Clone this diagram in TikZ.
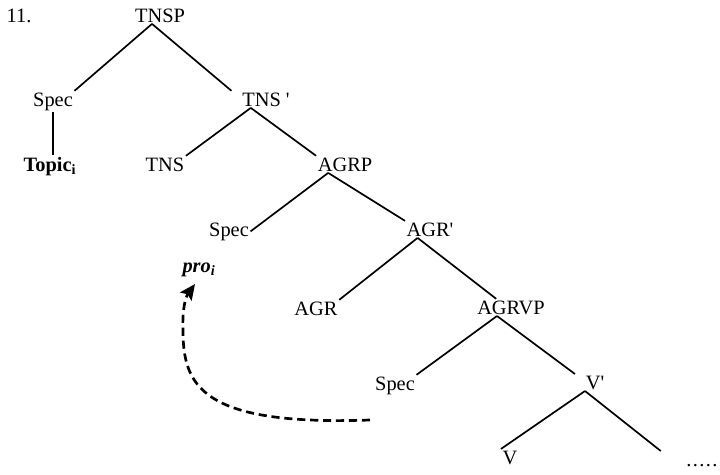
\documentclass[tikz,border=0pt]{standalone}
\usepackage{fontspec}
\setmainfont{Liberation Serif}
\usetikzlibrary{arrows.meta}

\tikzset{
	lbl/.style={anchor=base, inner sep=1pt, font=\fontsize{14.5}{17}\selectfont},
	branch/.style={line width=1.2pt},
	trace/.style={line width=1.9pt, dash pattern=on 5.8pt off 3.4pt, -{Stealth[length=11pt,width=10pt,inset=2pt]}}
}

\begin{document}
\begin{tikzpicture}[x=0.025cm, y=-0.025cm]
			\useasboundingbox (0,0) rectangle (720,474);
			\node[lbl] (num) at (19,22) {11.};
			\node[lbl] (tnsp) at (160,22) {TNSP};
			\node[lbl] (spec1) at (53,106) {Spec};
			\node[lbl] (tnsb) at (266,106) {TNS \textquotesingle};
			\node[lbl] (topic) at (50,171) {\textbf{Topic\textsubscript{i}}};
			\node[lbl] (tns) at (165,171) {TNS};
			\node[lbl] (agrp) at (345,171) {AGRP};
			\node[lbl] (spec2) at (229,236) {Spec};
			\node[lbl] (agrb) at (430,236) {AGR\textquotesingle};
			\node[lbl] (pro) at (199,272) {\textbf{\textit{pro}\textsubscript{\textit{i}}}};
			\node[lbl] (agr) at (316,315) {AGR};
			\node[lbl] (agrvp) at (511,314) {AGRVP};
			\node[lbl] (spec3) at (395,390) {Spec};
			\node[lbl] (vb) at (595,389) {V\textquotesingle};
			\node[lbl] (v) at (510,464) {V};
			\node[lbl] (dots) at (702,466) {.\kern1pt.\kern1pt.\kern1pt.\kern1pt.};
			% branches
			\draw[branch] ([xshift=-0.2cm]tnsp.south) -- (spec1.north east);
			\draw[branch] ([xshift=-0.2cm]tnsp.south) -- ([xshift=-0.23cm]tnsb.north west);
			\draw[branch] (spec1.south) -- (spec1.south |- topic.north);
			\draw[branch] ([xshift=-0.38cm]tnsb.south) -- (tns.north east);
			\draw[branch] ([xshift=-0.38cm]tnsb.south) -- (agrp.north west);
			\draw[branch] ([xshift=-0.42cm]agrp.south) -- (spec2.east);
			\draw[branch] ([xshift=-0.42cm]agrp.south) -- (agrb.north west);
			\draw[branch] ([xshift=-0.31cm]agrb.south) -- (agr.north east);
			\draw[branch] ([xshift=-0.31cm]agrb.south) -- ([xshift=-0.37cm]agrvp.north);
			\draw[branch] ([xshift=-0.35cm]agrvp.south) -- (spec3.north east);
			\draw[branch] ([xshift=-0.35cm]agrvp.south) -- ([xshift=-0.23cm]vb.north west);
			\draw[branch] ([xshift=-0.25cm]vb.south) -- (v.north west);
			\draw[branch] ([xshift=-0.25cm]vb.south) -- ([xshift=-0.6cm,yshift=0.28cm]dots.north west);
			% movement
			\coordinate (gap) at (370,420);
			\draw[trace] (gap) .. controls (200,426) and (183,385) .. (183,330) .. controls (182,305) and (187,295) .. ([xshift=-0.1cm,yshift=-0.15cm]pro.south);
		\end{tikzpicture}
\end{document}
